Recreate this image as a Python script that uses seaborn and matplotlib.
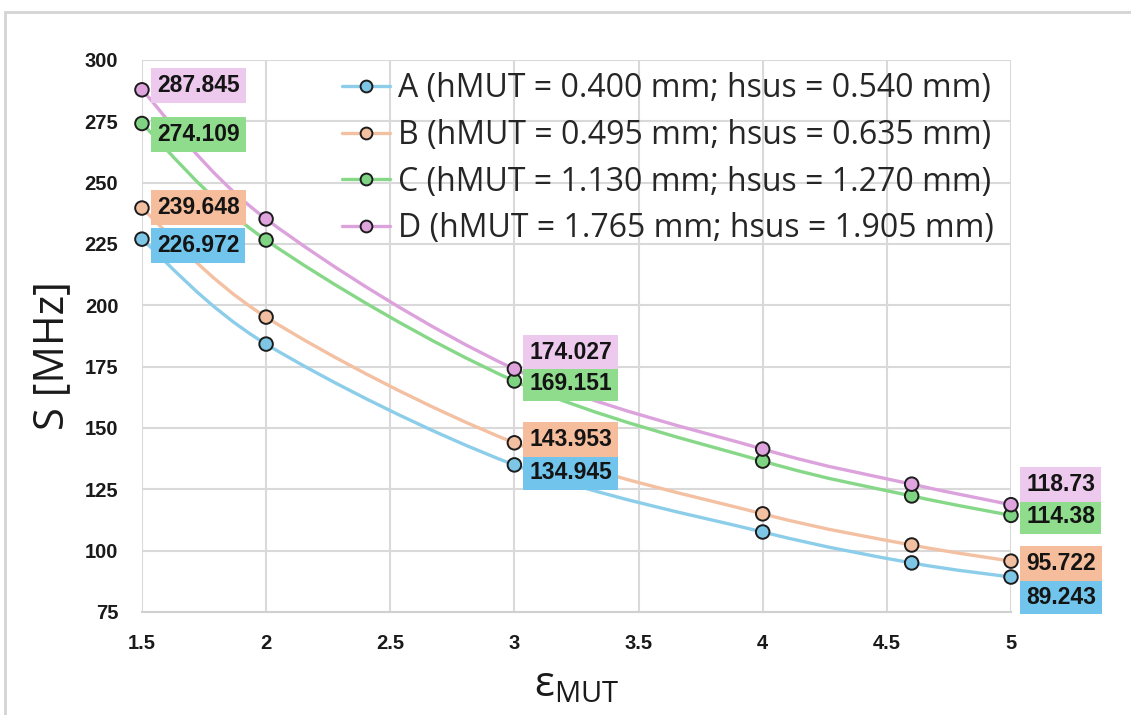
import numpy as np
import pandas as pd
import matplotlib
matplotlib.use("Agg")
import matplotlib.pyplot as plt
from matplotlib.path import Path
from matplotlib.patches import PathPatch, Rectangle
from matplotlib.lines import Line2D
import seaborn as sns

# permittivity of the material under test
eps_mut = [1.5, 2.0, 3.0, 4.0, 4.6, 5.0]

# sensitivity S [MHz] for each sensor geometry
s_a = [226.972, 184.2, 134.945, 107.6, 95.0, 89.243]
s_b = [239.648, 195.2, 143.953, 115.0, 102.3, 95.722]
s_c = [274.109, 226.6, 169.151, 136.5, 122.3, 114.38]
s_d = [287.845, 235.2, 174.027, 141.4, 127.1, 118.73]

series_names = ["A", "B", "C", "D"]
legend_labels = [
    "A (hMUT = 0.400 mm; hsus = 0.540 mm)",
    "B (hMUT = 0.495 mm; hsus = 0.635 mm)",
    "C (hMUT = 1.130 mm; hsus = 1.270 mm)",
    "D (hMUT = 1.765 mm; hsus = 1.905 mm)",
]

# which points carry a value label, as indices into eps_mut
labelled_idx = [0, 2, 5]

x_ticks = [1.5, 2, 2.5, 3, 3.5, 4, 4.5, 5]
y_ticks = [75, 100, 125, 150, 175, 200, 225, 250, 275, 300]

line_colors = {"A": "#8ccdea", "B": "#f3c0a2", "C": "#86d888", "D": "#dca2dc"}
marker_colors = {"A": "#7ec6e6", "B": "#f2bfa0", "C": "#7fd483", "D": "#dfa3dd"}
box_colors = {"A": "#71c4ec", "B": "#f6bd9d", "C": "#8fdc8d", "D": "#edc9ee"}

df = pd.DataFrame({
    "eps": eps_mut * 4,
    "S": s_a + s_b + s_c + s_d,
    "series": sum([[n] * len(eps_mut) for n in series_names], []),
})

sns.set_theme(style="white")
plt.rcParams["font.family"] = ["DejaVu Sans"]

fig = plt.figure(figsize=(11.31, 7.15), dpi=100)
ax = fig.add_axes([0.1255, 0.1441, 0.7684, 0.772])

# light frame around the whole chart
fig.patches.append(Rectangle((5 / 1131, -0.05), 1.2, 1 - 12 / 715 + 0.05,
                             transform=fig.transFigure, fill=False,
                             edgecolor="#d4d4d4", linewidth=2.0, zorder=0))


def smooth_path(xs, ys):
    """Cardinal-spline style Bezier path through the data points."""
    pts = np.column_stack([xs, ys]).astype(float)
    n = len(pts)
    verts = [pts[0]]
    codes = [Path.MOVETO]
    for i in range(n - 1):
        p0 = pts[i - 1] if i > 0 else pts[i]
        p1 = pts[i]
        p2 = pts[i + 1]
        p3 = pts[i + 2] if i + 2 < n else pts[i + 1]
        c1 = p1 + (p2 - p0) / 6.0
        c2 = p2 - (p3 - p1) / 6.0
        verts += [c1, c2, p2]
        codes += [Path.CURVE4] * 3
    return Path(verts, codes)


for name in series_names:
    sub = df[df["series"] == name]
    ax.add_patch(PathPatch(smooth_path(sub["eps"], sub["S"]), fill=False,
                           edgecolor=line_colors[name], linewidth=2.4,
                           zorder=3, capstyle="round", clip_on=False))

sns.scatterplot(data=df, x="eps", y="S", hue="series", palette=marker_colors,
                s=95, edgecolor="#1c1c1c", linewidth=1.4, zorder=5,
                legend=False, ax=ax, clip_on=False)

# value labels: (dx, dy) offsets in pixels per series and point
offsets = {
    ("D", 0): (15, 4), ("C", 0): (15, -11), ("B", 0): (15, 1), ("A", 0): (15, -6),
    ("D", 2): (15, 17), ("C", 2): (15, -3), ("B", 2): (15, 3), ("A", 2): (15, -8),
    ("D", 5): (15, 20), ("C", 5): (15, -1), ("B", 5): (15, -2), ("A", 5): (15, -20),
}
values = {"A": s_a, "B": s_b, "C": s_c, "D": s_d}
for name in series_names:
    for i in labelled_idx:
        v = values[name][i]
        dx, dy = offsets[(name, i)]
        ax.annotate(f"{v:g}", (eps_mut[i], v), xytext=(dx, dy),
                    textcoords="offset pixels", ha="left", va="center",
                    fontsize=16.5, fontweight="bold", color="#141414",
                    family="Liberation Sans", zorder=6, annotation_clip=False,
                    bbox=dict(boxstyle="square,pad=0.26", facecolor=box_colors[name],
                              edgecolor="none"))

ax.set_xlim(1.5, 5)
ax.set_ylim(75, 300)
ax.set_xticks(x_ticks)
ax.set_xticklabels([f"{t:g}" for t in x_ticks])
ax.set_yticks(y_ticks)
ax.grid(True, color="#d9d9d9", linewidth=1.5)
ax.set_axisbelow(True)
for side in ["top", "right", "left"]:
    ax.spines[side].set_visible(False)
ax.spines["bottom"].set_color("#d0d0d0")
ax.spines["bottom"].set_linewidth(1.5)
ax.tick_params(axis="both", length=0)
ax.tick_params(axis="y", pad=17)
ax.tick_params(axis="x", pad=16)
for lab in ax.get_xticklabels() + ax.get_yticklabels():
    lab.set_family(["Liberation Sans Narrow", "Liberation Sans"])
    lab.set_fontweight("bold")
    lab.set_fontsize(14.5)
    lab.set_color("#1a1a1a")

ax.set_xlabel("$\\mathregular{ε_{MUT}}$", fontsize=30, family="Open Sans",
              color="#1a1a1a", labelpad=8)
ax.set_ylabel("S [MHz]", fontsize=30, family="Open Sans", color="#1a1a1a")
ax.yaxis.set_label_coords(-0.079, 0.464)

handles = [Line2D([], [], color=line_colors[n], linewidth=2.4, marker="o",
                  markersize=8.5, markerfacecolor=marker_colors[n],
                  markeredgecolor="#1c1c1c", markeredgewidth=1.4)
           for n in series_names]
ax.legend(handles, legend_labels, loc="upper right", bbox_to_anchor=(1.0, 1.01),
          frameon=False, prop={"family": "Open Sans", "size": 23},
          handlelength=1.5, handletextpad=0.25, labelspacing=0.43,
          borderaxespad=0.15)

fig.savefig("out.png", dpi=100)
